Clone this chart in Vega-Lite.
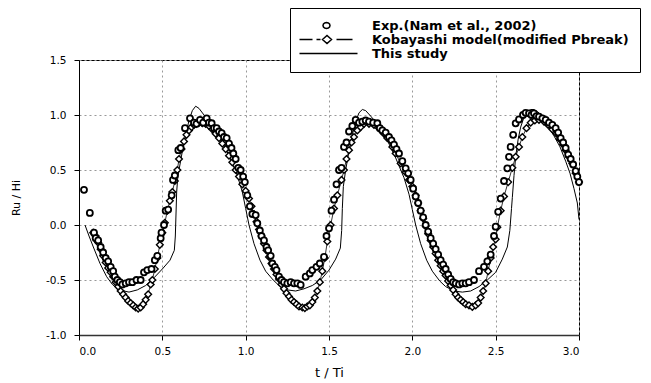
{
  "$schema": "https://vega.github.io/schema/vega-lite/v6.json",
  "width": 500,
  "height": 275,
  "autosize": {"type": "none"},
  "padding": {"left": 79, "top": 60, "right": 72, "bottom": 48},
  "background": "white",
  "config": {
    "view": {"stroke": "black", "strokeWidth": 1},
    "font": "DejaVu Sans",
    "axis": {
      "grid": true,
      "gridDash": [2, 3],
      "gridColor": "#999",
      "gridWidth": 1,
      "domainColor": "black",
      "tickColor": "black",
      "tickSize": 5,
      "labelFont": "DejaVu Sans",
      "labelFontSize": 10.5,
      "labelColor": "black",
      "titleFont": "DejaVu Sans",
      "titleFontWeight": "normal",
      "titleColor": "black",
      "titleFontSize": 12
    },
    "legend": {
      "labelFontSize": 13,
      "labelFont": "DejaVu Sans"
    }
  },
  "datasets": {
    "exp": [
      {"t": 0.03, "v": 0.32}, {"t": 0.065, "v": 0.11}, {"t": 0.09, "v": -0.07}, {"t": 0.1, "v": -0.12},
      {"t": 0.115, "v": -0.14}, {"t": 0.13, "v": -0.2}, {"t": 0.145, "v": -0.25}, {"t": 0.16, "v": -0.3},
      {"t": 0.175, "v": -0.33}, {"t": 0.19, "v": -0.38}, {"t": 0.205, "v": -0.42}, {"t": 0.215, "v": -0.47},
      {"t": 0.23, "v": -0.5}, {"t": 0.245, "v": -0.52}, {"t": 0.26, "v": -0.54}, {"t": 0.28, "v": -0.53},
      {"t": 0.3, "v": -0.52}, {"t": 0.32, "v": -0.52}, {"t": 0.345, "v": -0.5}, {"t": 0.37, "v": -0.5},
      {"t": 0.39, "v": -0.43}, {"t": 0.41, "v": -0.41}, {"t": 0.435, "v": -0.4}, {"t": 0.455, "v": -0.32},
      {"t": 0.47, "v": -0.28}, {"t": 0.49, "v": -0.12}, {"t": 0.495, "v": -0.07}, {"t": 0.51, "v": 0.0},
      {"t": 0.52, "v": 0.13}, {"t": 0.535, "v": 0.14}, {"t": 0.556, "v": 0.27}, {"t": 0.564, "v": 0.41},
      {"t": 0.575, "v": 0.45}, {"t": 0.596, "v": 0.68}, {"t": 0.61, "v": 0.7}, {"t": 0.636, "v": 0.88},
      {"t": 0.666, "v": 0.97}, {"t": 0.69, "v": 0.93}, {"t": 0.705, "v": 0.92}, {"t": 0.726, "v": 0.955},
      {"t": 0.745, "v": 0.93}, {"t": 0.766, "v": 0.97}, {"t": 0.78, "v": 0.93}, {"t": 0.796, "v": 0.925},
      {"t": 0.81, "v": 0.88}, {"t": 0.826, "v": 0.88}, {"t": 0.84, "v": 0.85}, {"t": 0.856, "v": 0.835},
      {"t": 0.87, "v": 0.8}, {"t": 0.886, "v": 0.79}, {"t": 0.9, "v": 0.74}, {"t": 0.915, "v": 0.7},
      {"t": 0.926, "v": 0.65}, {"t": 0.94, "v": 0.6}, {"t": 0.956, "v": 0.52}, {"t": 0.97, "v": 0.5},
      {"t": 0.985, "v": 0.44}, {"t": 0.995, "v": 0.39},
      {"t": 1.01, "v": 0.27}, {"t": 1.025, "v": 0.17}, {"t": 1.04, "v": 0.1}, {"t": 1.06, "v": 0.09},
      {"t": 1.07, "v": 0.015}, {"t": 1.085, "v": -0.05}, {"t": 1.095, "v": -0.1}, {"t": 1.11, "v": -0.14},
      {"t": 1.125, "v": -0.2}, {"t": 1.135, "v": -0.23}, {"t": 1.15, "v": -0.28}, {"t": 1.16, "v": -0.35},
      {"t": 1.175, "v": -0.38}, {"t": 1.185, "v": -0.41}, {"t": 1.2, "v": -0.47}, {"t": 1.215, "v": -0.5},
      {"t": 1.23, "v": -0.52}, {"t": 1.25, "v": -0.53}, {"t": 1.27, "v": -0.52}, {"t": 1.29, "v": -0.53},
      {"t": 1.31, "v": -0.53}, {"t": 1.33, "v": -0.545}, {"t": 1.36, "v": -0.47}, {"t": 1.385, "v": -0.44},
      {"t": 1.4, "v": -0.41}, {"t": 1.425, "v": -0.38}, {"t": 1.445, "v": -0.35}, {"t": 1.47, "v": -0.29},
      {"t": 1.485, "v": -0.1}, {"t": 1.5, "v": -0.03}, {"t": 1.515, "v": 0.13}, {"t": 1.53, "v": 0.23},
      {"t": 1.545, "v": 0.37}, {"t": 1.56, "v": 0.5}, {"t": 1.575, "v": 0.52}, {"t": 1.59, "v": 0.71},
      {"t": 1.605, "v": 0.75}, {"t": 1.62, "v": 0.85}, {"t": 1.64, "v": 0.9}, {"t": 1.66, "v": 0.955},
      {"t": 1.68, "v": 0.93}, {"t": 1.7, "v": 0.94}, {"t": 1.72, "v": 0.95}, {"t": 1.74, "v": 0.94},
      {"t": 1.765, "v": 0.93}, {"t": 1.79, "v": 0.925}, {"t": 1.805, "v": 0.88}, {"t": 1.82, "v": 0.86},
      {"t": 1.84, "v": 0.84}, {"t": 1.86, "v": 0.8}, {"t": 1.875, "v": 0.77}, {"t": 1.89, "v": 0.73},
      {"t": 1.905, "v": 0.69}, {"t": 1.92, "v": 0.65}, {"t": 1.94, "v": 0.58}, {"t": 1.96, "v": 0.515},
      {"t": 1.975, "v": 0.47}, {"t": 1.99, "v": 0.41},
      {"t": 2.005, "v": 0.33}, {"t": 2.02, "v": 0.26}, {"t": 2.035, "v": 0.2}, {"t": 2.05, "v": 0.13},
      {"t": 2.065, "v": 0.07}, {"t": 2.08, "v": 0.0}, {"t": 2.095, "v": -0.06}, {"t": 2.11, "v": -0.12},
      {"t": 2.125, "v": -0.17}, {"t": 2.14, "v": -0.22}, {"t": 2.155, "v": -0.27}, {"t": 2.17, "v": -0.32},
      {"t": 2.185, "v": -0.36}, {"t": 2.2, "v": -0.4}, {"t": 2.215, "v": -0.45}, {"t": 2.23, "v": -0.49},
      {"t": 2.245, "v": -0.52}, {"t": 2.26, "v": -0.53}, {"t": 2.28, "v": -0.54}, {"t": 2.3, "v": -0.53},
      {"t": 2.32, "v": -0.53}, {"t": 2.34, "v": -0.52}, {"t": 2.37, "v": -0.5}, {"t": 2.4, "v": -0.42},
      {"t": 2.43, "v": -0.38}, {"t": 2.45, "v": -0.33}, {"t": 2.47, "v": -0.27}, {"t": 2.49, "v": -0.1},
      {"t": 2.5, "v": -0.015}, {"t": 2.515, "v": 0.12}, {"t": 2.53, "v": 0.24}, {"t": 2.55, "v": 0.4},
      {"t": 2.57, "v": 0.515}, {"t": 2.58, "v": 0.62}, {"t": 2.59, "v": 0.71}, {"t": 2.605, "v": 0.82},
      {"t": 2.62, "v": 0.924}, {"t": 2.64, "v": 0.96}, {"t": 2.664, "v": 1.0}, {"t": 2.68, "v": 1.02},
      {"t": 2.7, "v": 1.015}, {"t": 2.715, "v": 1.0}, {"t": 2.73, "v": 1.015}, {"t": 2.745, "v": 0.99},
      {"t": 2.76, "v": 0.985}, {"t": 2.78, "v": 0.97}, {"t": 2.8, "v": 0.955}, {"t": 2.82, "v": 0.93},
      {"t": 2.84, "v": 0.91}, {"t": 2.86, "v": 0.88}, {"t": 2.875, "v": 0.84}, {"t": 2.89, "v": 0.79},
      {"t": 2.905, "v": 0.75}, {"t": 2.92, "v": 0.7}, {"t": 2.935, "v": 0.64}, {"t": 2.95, "v": 0.6},
      {"t": 2.965, "v": 0.55}, {"t": 2.98, "v": 0.49}, {"t": 2.99, "v": 0.44}, {"t": 3.0, "v": 0.39}
    ],
    "kob": [
      {"t": 0.085, "v": -0.07}, {"t": 0.1, "v": -0.1}, {"t": 0.115, "v": -0.16}, {"t": 0.13, "v": -0.22},
      {"t": 0.145, "v": -0.28}, {"t": 0.16, "v": -0.34}, {"t": 0.175, "v": -0.39}, {"t": 0.19, "v": -0.43},
      {"t": 0.205, "v": -0.47}, {"t": 0.22, "v": -0.52}, {"t": 0.235, "v": -0.56}, {"t": 0.25, "v": -0.6},
      {"t": 0.265, "v": -0.63}, {"t": 0.28, "v": -0.66}, {"t": 0.295, "v": -0.69}, {"t": 0.31, "v": -0.71},
      {"t": 0.325, "v": -0.73}, {"t": 0.34, "v": -0.75}, {"t": 0.355, "v": -0.76}, {"t": 0.37, "v": -0.75},
      {"t": 0.385, "v": -0.72}, {"t": 0.4, "v": -0.68}, {"t": 0.415, "v": -0.63}, {"t": 0.43, "v": -0.54},
      {"t": 0.44, "v": -0.5}, {"t": 0.455, "v": -0.4}, {"t": 0.47, "v": -0.3}, {"t": 0.485, "v": -0.18},
      {"t": 0.5, "v": -0.07}, {"t": 0.515, "v": 0.02}, {"t": 0.53, "v": 0.13}, {"t": 0.545, "v": 0.22},
      {"t": 0.56, "v": 0.3}, {"t": 0.575, "v": 0.4}, {"t": 0.59, "v": 0.5}, {"t": 0.6, "v": 0.6},
      {"t": 0.615, "v": 0.69}, {"t": 0.63, "v": 0.76}, {"t": 0.645, "v": 0.82}, {"t": 0.66, "v": 0.86},
      {"t": 0.675, "v": 0.89}, {"t": 0.69, "v": 0.91}, {"t": 0.705, "v": 0.92}, {"t": 0.72, "v": 0.93},
      {"t": 0.74, "v": 0.925}, {"t": 0.76, "v": 0.92}, {"t": 0.78, "v": 0.9}, {"t": 0.8, "v": 0.87},
      {"t": 0.82, "v": 0.83}, {"t": 0.84, "v": 0.79}, {"t": 0.86, "v": 0.74}, {"t": 0.88, "v": 0.69},
      {"t": 0.9, "v": 0.63}, {"t": 0.92, "v": 0.57}, {"t": 0.94, "v": 0.5}, {"t": 0.96, "v": 0.44},
      {"t": 0.98, "v": 0.37}, {"t": 1.0, "v": 0.31},
      {"t": 1.02, "v": 0.24}, {"t": 1.035, "v": 0.17}, {"t": 1.05, "v": 0.1}, {"t": 1.065, "v": 0.03},
      {"t": 1.08, "v": -0.04}, {"t": 1.095, "v": -0.1}, {"t": 1.11, "v": -0.17}, {"t": 1.125, "v": -0.23},
      {"t": 1.14, "v": -0.29}, {"t": 1.155, "v": -0.35}, {"t": 1.17, "v": -0.4}, {"t": 1.185, "v": -0.45},
      {"t": 1.2, "v": -0.49}, {"t": 1.215, "v": -0.54}, {"t": 1.23, "v": -0.58}, {"t": 1.245, "v": -0.62},
      {"t": 1.26, "v": -0.65}, {"t": 1.275, "v": -0.68}, {"t": 1.29, "v": -0.7}, {"t": 1.305, "v": -0.72},
      {"t": 1.32, "v": -0.74}, {"t": 1.34, "v": -0.75}, {"t": 1.355, "v": -0.755}, {"t": 1.37, "v": -0.74},
      {"t": 1.385, "v": -0.73}, {"t": 1.4, "v": -0.7}, {"t": 1.415, "v": -0.66}, {"t": 1.43, "v": -0.6},
      {"t": 1.445, "v": -0.52}, {"t": 1.46, "v": -0.42}, {"t": 1.475, "v": -0.3}, {"t": 1.49, "v": -0.15},
      {"t": 1.51, "v": 0.0}, {"t": 1.53, "v": 0.15}, {"t": 1.55, "v": 0.27}, {"t": 1.575, "v": 0.41},
      {"t": 1.59, "v": 0.5}, {"t": 1.605, "v": 0.6}, {"t": 1.62, "v": 0.68}, {"t": 1.635, "v": 0.75},
      {"t": 1.65, "v": 0.8}, {"t": 1.67, "v": 0.86}, {"t": 1.69, "v": 0.89}, {"t": 1.71, "v": 0.92},
      {"t": 1.74, "v": 0.92}, {"t": 1.77, "v": 0.91}, {"t": 1.8, "v": 0.88}, {"t": 1.83, "v": 0.83},
      {"t": 1.85, "v": 0.79}, {"t": 1.88, "v": 0.71}, {"t": 1.9, "v": 0.65}, {"t": 1.93, "v": 0.56},
      {"t": 1.96, "v": 0.48}, {"t": 1.98, "v": 0.41}, {"t": 2.0, "v": 0.35},
      {"t": 2.02, "v": 0.27}, {"t": 2.035, "v": 0.2}, {"t": 2.05, "v": 0.13}, {"t": 2.065, "v": 0.06},
      {"t": 2.08, "v": -0.01}, {"t": 2.095, "v": -0.08}, {"t": 2.11, "v": -0.14}, {"t": 2.125, "v": -0.2},
      {"t": 2.14, "v": -0.26}, {"t": 2.155, "v": -0.32}, {"t": 2.17, "v": -0.37}, {"t": 2.185, "v": -0.42},
      {"t": 2.2, "v": -0.46}, {"t": 2.215, "v": -0.51}, {"t": 2.23, "v": -0.55}, {"t": 2.245, "v": -0.59},
      {"t": 2.26, "v": -0.63}, {"t": 2.275, "v": -0.66}, {"t": 2.29, "v": -0.68}, {"t": 2.305, "v": -0.7},
      {"t": 2.32, "v": -0.72}, {"t": 2.34, "v": -0.73}, {"t": 2.36, "v": -0.745}, {"t": 2.38, "v": -0.73},
      {"t": 2.395, "v": -0.71}, {"t": 2.41, "v": -0.66}, {"t": 2.425, "v": -0.6}, {"t": 2.44, "v": -0.53},
      {"t": 2.455, "v": -0.42}, {"t": 2.47, "v": -0.3}, {"t": 2.485, "v": -0.2}, {"t": 2.5, "v": -0.13},
      {"t": 2.51, "v": -0.02}, {"t": 2.53, "v": 0.13}, {"t": 2.55, "v": 0.26}, {"t": 2.575, "v": 0.39},
      {"t": 2.6, "v": 0.52}, {"t": 2.62, "v": 0.62}, {"t": 2.64, "v": 0.71}, {"t": 2.66, "v": 0.8},
      {"t": 2.685, "v": 0.88}, {"t": 2.71, "v": 0.93}, {"t": 2.735, "v": 0.95}, {"t": 2.76, "v": 0.955},
      {"t": 2.79, "v": 0.94}, {"t": 2.815, "v": 0.91}, {"t": 2.84, "v": 0.87}, {"t": 2.865, "v": 0.83},
      {"t": 2.885, "v": 0.78}, {"t": 2.905, "v": 0.73}, {"t": 2.92, "v": 0.68}, {"t": 2.94, "v": 0.62},
      {"t": 2.96, "v": 0.56}, {"t": 2.98, "v": 0.47}, {"t": 3.0, "v": 0.39}
    ],
    "study": [
      {"t": 0.036, "v": 0.0}, {"t": 0.06, "v": -0.1}, {"t": 0.086, "v": -0.2}, {"t": 0.126, "v": -0.35},
      {"t": 0.166, "v": -0.47}, {"t": 0.2, "v": -0.54}, {"t": 0.23, "v": -0.58}, {"t": 0.27, "v": -0.6},
      {"t": 0.3, "v": -0.61}, {"t": 0.35, "v": -0.59}, {"t": 0.4, "v": -0.55}, {"t": 0.45, "v": -0.48},
      {"t": 0.5, "v": -0.4}, {"t": 0.546, "v": -0.32}, {"t": 0.572, "v": -0.23}, {"t": 0.578, "v": -0.1},
      {"t": 0.582, "v": 0.1}, {"t": 0.586, "v": 0.3}, {"t": 0.592, "v": 0.42}, {"t": 0.6, "v": 0.5},
      {"t": 0.62, "v": 0.67}, {"t": 0.64, "v": 0.82}, {"t": 0.66, "v": 0.95}, {"t": 0.68, "v": 1.04},
      {"t": 0.7, "v": 1.08}, {"t": 0.72, "v": 1.06}, {"t": 0.75, "v": 1.0}, {"t": 0.8, "v": 0.92},
      {"t": 0.85, "v": 0.79}, {"t": 0.9, "v": 0.63}, {"t": 0.95, "v": 0.45}, {"t": 0.98, "v": 0.3},
      {"t": 1.0, "v": 0.15}, {"t": 1.02, "v": 0.0}, {"t": 1.05, "v": -0.17}, {"t": 1.086, "v": -0.32},
      {"t": 1.12, "v": -0.42}, {"t": 1.165, "v": -0.5}, {"t": 1.2, "v": -0.55}, {"t": 1.25, "v": -0.59},
      {"t": 1.3, "v": -0.6}, {"t": 1.35, "v": -0.58}, {"t": 1.4, "v": -0.55}, {"t": 1.45, "v": -0.5},
      {"t": 1.5, "v": -0.41}, {"t": 1.54, "v": -0.31}, {"t": 1.568, "v": -0.21}, {"t": 1.576, "v": -0.05},
      {"t": 1.58, "v": 0.15}, {"t": 1.586, "v": 0.35}, {"t": 1.6, "v": 0.5}, {"t": 1.62, "v": 0.67},
      {"t": 1.64, "v": 0.82}, {"t": 1.66, "v": 0.94}, {"t": 1.68, "v": 1.02}, {"t": 1.7, "v": 1.05},
      {"t": 1.72, "v": 1.04}, {"t": 1.75, "v": 0.99}, {"t": 1.8, "v": 0.9}, {"t": 1.85, "v": 0.77},
      {"t": 1.9, "v": 0.61}, {"t": 1.95, "v": 0.43}, {"t": 1.98, "v": 0.28}, {"t": 2.0, "v": 0.14},
      {"t": 2.02, "v": 0.0}, {"t": 2.05, "v": -0.17}, {"t": 2.086, "v": -0.32}, {"t": 2.12, "v": -0.42},
      {"t": 2.165, "v": -0.51}, {"t": 2.2, "v": -0.56}, {"t": 2.25, "v": -0.6}, {"t": 2.3, "v": -0.61},
      {"t": 2.35, "v": -0.6}, {"t": 2.4, "v": -0.56}, {"t": 2.45, "v": -0.5}, {"t": 2.5, "v": -0.43},
      {"t": 2.54, "v": -0.31}, {"t": 2.57, "v": -0.2}, {"t": 2.585, "v": -0.05}, {"t": 2.595, "v": 0.15},
      {"t": 2.6, "v": 0.25}, {"t": 2.61, "v": 0.45}, {"t": 2.62, "v": 0.62}, {"t": 2.635, "v": 0.78},
      {"t": 2.65, "v": 0.89}, {"t": 2.67, "v": 0.98}, {"t": 2.69, "v": 1.03}, {"t": 2.71, "v": 1.05},
      {"t": 2.73, "v": 1.05}, {"t": 2.76, "v": 1.02}, {"t": 2.8, "v": 0.93}, {"t": 2.85, "v": 0.81},
      {"t": 2.886, "v": 0.71}, {"t": 2.92, "v": 0.58}, {"t": 2.946, "v": 0.47}, {"t": 2.97, "v": 0.33},
      {"t": 2.99, "v": 0.2}, {"t": 3.0, "v": 0.05}
    ],
    "legend": [
      {"series": "Exp.(Nam et al., 2002)"}
    ]
  },
  "layer": [
    {
      "data": {"name": "study"},
      "mark": {"type": "line", "color": "black", "strokeWidth": 1, "clip": true},
      "encoding": {
        "x": {
          "field": "t", "type": "quantitative",
          "scale": {"domain": [0, 3], "nice": false, "zero": false},
          "axis": {
            "title": "t / Ti",
            "values": [0, 0.5, 1, 1.5, 2, 2.5, 3],
            "format": ".1f",
            "labelPadding": 6,
            "titlePadding": 10,
            "titleFontSize": 13,
            "domainWidth": 1.5,
            "domainColor": "#333"
          }
        },
        "y": {
          "field": "v", "type": "quantitative",
          "scale": {"domain": [-1, 1.5], "nice": false, "zero": false},
          "axis": {
            "title": "Ru / Hi",
            "values": [-1, -0.5, 0, 0.5, 1, 1.5],
            "format": ".1f",
            "labelExpr": "replace(datum.label, '\u2212', '-')",
            "labelPadding": 8,
            "titlePadding": 24,
            "titleFontSize": 11
          }
        }
      }
    },
    {
      "data": {"name": "kob"},
      "mark": {"type": "line", "color": "black", "strokeWidth": 0.8},
      "encoding": {
        "x": {"field": "t", "type": "quantitative"},
        "y": {"field": "v", "type": "quantitative"}
      }
    },
    {
      "data": {"name": "kob"},
      "mark": {"type": "point", "shape": "diamond", "filled": true, "fill": "white", "stroke": "black", "strokeWidth": 1.4, "size": 45, "opacity": 1},
      "encoding": {
        "x": {"field": "t", "type": "quantitative"},
        "y": {"field": "v", "type": "quantitative"}
      }
    },
    {
      "data": {"name": "exp"},
      "mark": {"type": "point", "shape": "circle", "filled": true, "fill": "white", "stroke": "black", "strokeWidth": 1.8, "size": 36, "opacity": 1},
      "encoding": {
        "x": {"field": "t", "type": "quantitative"},
        "y": {"field": "v", "type": "quantitative"}
      }
    },
    {
      "data": {"name": "legend"},
      "transform": [{"filter": "datum.series == 'none'"}],
      "mark": {"type": "point", "filled": true, "fill": "white", "stroke": "black", "strokeWidth": 1.3, "size": 100, "opacity": 1},
      "encoding": {
        "shape": {
          "field": "series", "type": "nominal",
          "scale": {
            "domain": ["Exp.(Nam et al., 2002)", "Kobayashi model(modified Pbreak)", "This study"],
            "range": [
              "M4.5,0L4.406,0.3L4.15,0.52L3.8,0.6L3.45,0.52L3.194,0.3L3.1,0L3.194,-0.3L3.45,-0.52L3.8,-0.6L4.15,-0.52L4.406,-0.3Z",
              "M-1.6,0H1M1.8,0H2.6M5.8,0H9M3,0L3.9,-0.8L4.8,0L3.9,0.8Z",
              "M-1.6,0H10"
            ]
          },
          "legend": {
            "title": null,
            "orient": "none",
            "legendX": 211,
            "legendY": -52,
            "strokeColor": "black",
            "fillColor": "white",
            "padding": 11,
            "labelFont": "DejaVu Sans",
            "labelFontSize": 13,
            "labelFontWeight": "bold",
            "labelColor": "black",
            "labelOffset": 58,
            "labelLimit": 400,
            "rowPadding": -2,
            "symbolSize": 100,
            "encode": {
              "symbols": {
                "update": {
                  "stroke": {"value": "black"},
                  "fill": {"value": "white"},
                  "strokeWidth": {"value": 1.3},
                  "opacity": {"value": 1},
                  "size": {"value": 100}
                }
              }
            }
          }
        }
      }
    }
  ]
}
